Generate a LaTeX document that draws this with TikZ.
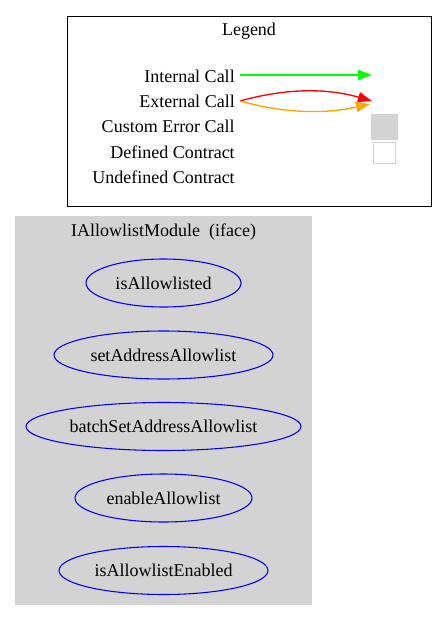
\documentclass[tikz,border=0pt]{standalone}
\usepackage{fontspec}
\setmainfont{Liberation Serif}
\usetikzlibrary{shapes.geometric,arrows.meta}
\begin{document}
\begin{tikzpicture}[x=0.75pt,y=-0.75pt,
  lbl/.style={font=\fontsize{13.5pt}{16pt}\selectfont, inner sep=0pt},
  fn/.style={ellipse, draw=blue, line width=0.8pt, inner sep=0pt, font=\fontsize{13.5pt}{16pt}\selectfont},
  tip/.style={-{Triangle[length=10.5pt,width=7.5pt]}, line width=1pt}]
\useasboundingbox (0,0) rectangle (447,621);
% legend
\node[draw=black, line width=0.7pt, minimum width=273pt, minimum height=142.5pt, inner sep=0pt] (legend) at (249,111) {};
\node[lbl] (legtitle) at (249,31) {Legend};
\node[lbl, anchor=east] (l1) at (235,76) {Internal Call};
\node[lbl, anchor=east] (l2) at (235,101) {External Call};
\node[lbl, anchor=east] (l3) at (235,126) {Custom Error Call};
\node[lbl, anchor=east] (l4) at (235,152) {Defined Contract};
\node[lbl, anchor=east] (l5) at (235,177) {Undefined Contract};
\coordinate (a1) at (240,75);
\coordinate (b1) at (372,75);
\coordinate (a2) at (240,101);
\coordinate (b2) at (372,101);
\coordinate (b3) at (370,104);
\draw[tip, color={rgb,255:red,0;green,255;blue,0}] (a1) -- (b1);
\draw[tip, red] (a2) .. controls (290,87) and (330,89) .. (b2);
\draw[tip, color={rgb,255:red,255;green,165;blue,0}] (a2) .. controls (290,115) and (330,113) .. (b3);
\node[fill={rgb,255:red,211;green,211;blue,211}, minimum width=20pt, minimum height=19.5pt, inner sep=0pt] (k3) at (384.5,127) {};
\node[draw={rgb,255:red,211;green,211;blue,211}, line width=0.8pt, fill=white, minimum width=16pt, minimum height=16pt, inner sep=0pt] (k4) at (384.5,153) {};
% cluster
\node[fill={rgb,255:red,211;green,211;blue,211}, minimum width=222.75pt, minimum height=291.75pt, inner sep=0pt] (cluster) at (163.5,410.5) {};
\node[lbl] (ctitle) at (163.5,232) {IAllowlistModule\ \ (iface)};
\node[fn, minimum width=116.25pt, minimum height=36pt] (n1) at (163.5,283) {isAllowlisted};
\node[fn, minimum width=164.25pt, minimum height=36pt] (n2) at (163.5,355) {setAddressAllowlist};
\node[fn, minimum width=206.25pt, minimum height=36pt] (n3) at (163.5,426.5) {batchSetAddressAllowlist};
\node[fn, minimum width=132.75pt, minimum height=36pt] (n4) at (163.5,498) {enableAllowlist};
\node[fn, minimum width=156.75pt, minimum height=36pt] (n5) at (163.5,570.5) {isAllowlistEnabled};
\end{tikzpicture}
\end{document}
